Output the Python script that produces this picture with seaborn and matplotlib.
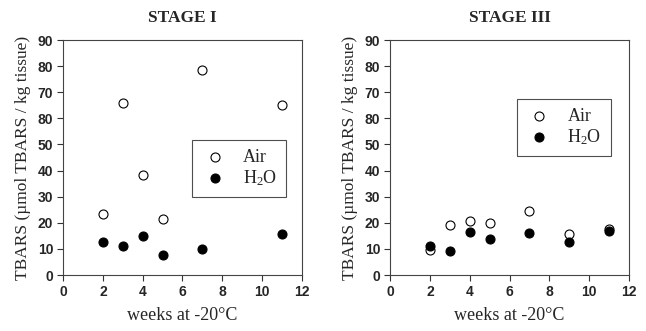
import matplotlib
matplotlib.use("Agg")
import matplotlib.pyplot as plt
import seaborn as sns
import pandas as pd

# Data
weeks_1 = [2, 3, 4, 5, 7, 11]
air_1 = [23.5, 66.0, 38.5, 21.3, 78.5, 65.3]
h2o_1 = [12.5, 11.2, 14.8, 7.8, 10.0, 15.7]

weeks_3 = [2, 3, 4, 5, 7, 9, 11]
air_3 = [9.5, 19.3, 20.7, 19.8, 24.7, 15.8, 17.5]
h2o_3 = [11.0, 9.3, 16.5, 13.7, 16.0, 12.7, 16.7]

titles = ["STAGE I", "STAGE III"]
xticks = [0, 2, 4, 6, 8, 10, 12]
yticks = [0, 10, 20, 30, 40, 50, 60, 70, 80, 90]
ytick_labels = ["0", "10", "20", "30", "40", "50", "80", "70", "80", "90"]

sns.set_style("ticks")
plt.rcParams['font.family'] = ['Liberation Serif', 'DejaVu Serif']
plt.rcParams['mathtext.fontset'] = 'custom'
plt.rcParams['mathtext.rm'] = 'Liberation Serif'
plt.rcParams['mathtext.default'] = 'regular'

fig = plt.figure(figsize=(6.46, 3.31), dpi=100)
ax1 = fig.add_axes([0.0975, 0.169, 0.370, 0.710])
ax3 = fig.add_axes([0.6037, 0.169, 0.370, 0.710])

# legend top-left corner in axes coords
panels = [
    (ax1, weeks_1, air_1, h2o_1, (0.54, 0.574)),
    (ax3, weeks_3, air_3, h2o_3, (0.531, 0.749)),
]

for i, (ax, wk, air, h2o, corner) in enumerate(panels):
    df = pd.DataFrame({'week': wk, 'Air': air, 'H2O': h2o})
    sns.scatterplot(x='week', y='Air', data=df, ax=ax, s=42,
                    facecolor='white', edgecolor='black', linewidth=0.8,
                    label='Air')
    sns.scatterplot(x='week', y='H2O', data=df, ax=ax, s=42,
                    color='black', edgecolor='black', linewidth=0.8,
                    label='H$_2$O')
    ax.set_xlim(0, 12)
    ax.set_ylim(0, 90)
    ax.set_xticks(xticks)
    ax.set_yticks(yticks)
    ax.set_yticklabels(ytick_labels)
    for lab in ax.get_xticklabels() + ax.get_yticklabels():
        lab.set_family('Liberation Sans')
        lab.set_fontsize(10)
        lab.set_fontweight('bold')
    ax.tick_params(direction='out', length=4, width=0.8, color='#333333', pad=3)
    for sp in ax.spines.values():
        sp.set_visible(True)
        sp.set_color('#444444')
        sp.set_linewidth(0.8)
    ax.set_title(titles[i], fontsize=12.5, fontweight='bold', pad=13)
    ax.set_xlabel('weeks at -20°C', fontsize=13, labelpad=6)
    ax.set_ylabel('TBARS (µmol TBARS / kg tissue)', fontsize=12.5, labelpad=5)
    leg = ax.legend(loc='upper left', bbox_to_anchor=corner,
                    fancybox=False, edgecolor='#222222', fontsize=13,
                    handletextpad=0.8, labelspacing=0.1, borderpad=0.5,
                    borderaxespad=0, handlelength=1.5)
    leg.get_frame().set_linewidth(0.8)

fig.savefig('out.png', dpi=100)
